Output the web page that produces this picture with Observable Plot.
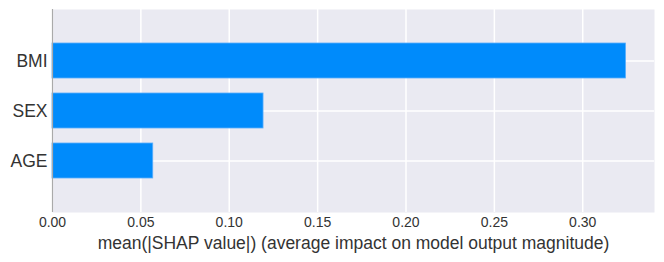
<!DOCTYPE html>
<html>
<head>
<meta charset="utf-8">
<script src="https://cdn.jsdelivr.net/npm/d3@7"></script>
<script src="https://cdn.jsdelivr.net/npm/@observablehq/plot@0.6"></script>
<style>
  html, body { margin: 0; padding: 0; background: #fff; }
  #chart svg { display: block; }
</style>
</head>
<body>
<div id="chart"></div>
<script>
const features = ["BMI", "SEX", "AGE"];
const values = [0.3245, 0.1194, 0.0570];
const xTicks = [0, 0.05, 0.10, 0.15, 0.20, 0.25, 0.30];
const xLabel = "mean(|SHAP value|) (average impact on model output magnitude)";

const data = features.map((f, i) => ({feature: f, value: values[i]}));

const chart = Plot.plot({
  width: 664,
  height: 262,
  marginLeft: 52,
  marginRight: 10,
  marginTop: 9,
  marginBottom: 50,
  style: {fontFamily: "Liberation Sans, Arial, sans-serif", background: "#fff"},
  x: {domain: [0, 0.3406]},
  y: {domain: features, paddingInner: 0.3, paddingOuter: 0.65},
  marks: [
    Plot.frame({fill: "#eaeaf2", stroke: null}),
    Plot.gridX(xTicks, {stroke: "#fff", strokeOpacity: 1, strokeWidth: 1.5}),
    Plot.gridY(features, {stroke: "#fff", strokeOpacity: 1, strokeWidth: 1.5}),
    Plot.barX(data, {x: "value", y: "feature", fill: "#008bfb", stroke: "#5aaefc", strokeWidth: 0.8}),
    Plot.ruleX([0], {stroke: "#aaaaaa", strokeWidth: 1.2}),
    Plot.axisX(xTicks, {tickSize: 0, tickPadding: 5, fontSize: 14, fill: "#333", tickFormat: d3.format(".2f"), label: null}),
    Plot.axisY({tickSize: 0, tickPadding: 5, fontSize: 17.5, fill: "#333", label: null}),
    Plot.text([xLabel], {frameAnchor: "bottom", dy: 31, fontSize: 17.5, fill: "#333", lineAnchor: "middle"})
  ]
});
document.getElementById("chart").appendChild(chart);
</script>
</body>
</html>
